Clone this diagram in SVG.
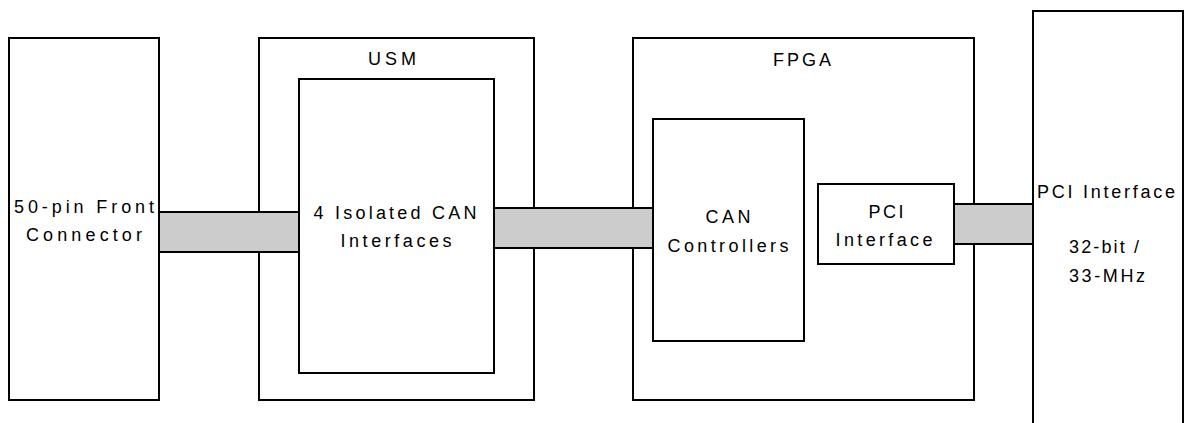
<svg xmlns="http://www.w3.org/2000/svg" width="1184" height="423" viewBox="0 0 1184 423">
  <style>
    .box { fill: #ffffff; stroke: #000000; stroke-width: 2; }
    .bus { fill: #cccccc; stroke: #000000; stroke-width: 2; }
    .lbl { font-family: "Liberation Sans", Arial, sans-serif; font-size: 18px; fill: #000000; text-anchor: middle; }
  </style>
  <rect width="1184" height="423" fill="#ffffff"/>

  <!-- front connector -->
  <g id="front-connector">
    <rect class="box" x="9" y="38" width="150" height="362"/>
    <text class="lbl" x="84" y="213" textLength="140" lengthAdjust="spacing">50-pin Front</text>
    <text class="lbl" x="84" y="241" textLength="116" lengthAdjust="spacing">Connector</text>
  </g>

  <!-- USM module -->
  <g id="usm">
    <rect class="box" x="259" y="38" width="275" height="362"/>
    <text class="lbl" x="392" y="65" textLength="48" lengthAdjust="spacing">USM</text>
  </g>
  <g id="can-interfaces">
    <rect class="box" x="299" y="79" width="195" height="294"/>
    <text class="lbl" x="395" y="219" textLength="163" lengthAdjust="spacing">4 Isolated CAN</text>
    <text class="lbl" x="396" y="247" textLength="111" lengthAdjust="spacing">Interfaces</text>
  </g>

  <!-- FPGA -->
  <g id="fpga">
    <rect class="box" x="633" y="38" width="341" height="362"/>
    <text class="lbl" x="802" y="66" textLength="58" lengthAdjust="spacing">FPGA</text>
  </g>
  <g id="can-controllers">
    <rect class="box" x="653" y="119" width="151" height="222"/>
    <text class="lbl" x="728" y="223" textLength="45" lengthAdjust="spacing">CAN</text>
    <text class="lbl" x="728" y="252" textLength="121" lengthAdjust="spacing">Controllers</text>
  </g>
  <g id="pci-core">
    <rect class="box" x="818" y="184" width="136" height="80"/>
    <text class="lbl" x="886" y="218" textLength="35" lengthAdjust="spacing">PCI</text>
    <text class="lbl" x="884" y="246" textLength="97" lengthAdjust="spacing">Interface</text>
  </g>

  <!-- host PCI bus -->
  <g id="pci-bus">
    <rect class="box" x="1033" y="11" width="150" height="420"/>
    <text class="lbl" x="1106" y="198" textLength="138" lengthAdjust="spacing">PCI Interface</text>
    <text class="lbl" x="1104" y="253" textLength="70" lengthAdjust="spacing">32-bit /</text>
    <text class="lbl" x="1107" y="282" textLength="76" lengthAdjust="spacing">33-MHz</text>
  </g>

  <!-- buses between blocks -->
  <g id="connectors">
    <rect class="bus" x="159" y="212" width="140" height="40"/>
    <rect class="bus" x="494" y="208" width="159" height="40"/>
    <rect class="bus" x="954" y="204" width="79" height="40"/>
  </g>
</svg>
